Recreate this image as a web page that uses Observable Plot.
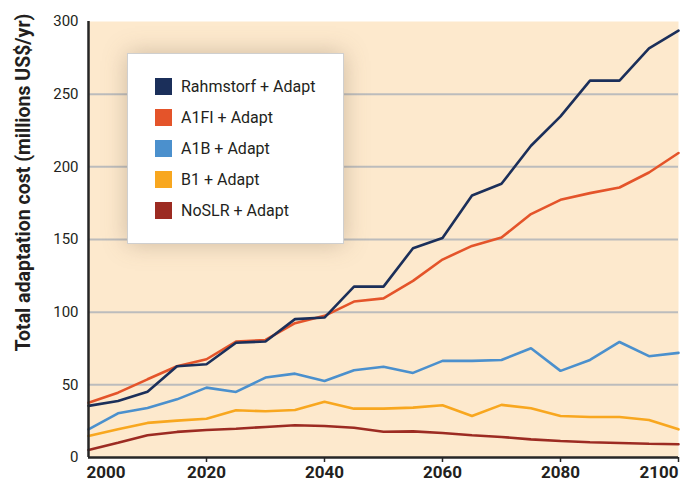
<!DOCTYPE html>
<html>
<head>
<meta charset="utf-8">
<script src="https://cdn.jsdelivr.net/npm/d3@7"></script>
<script src="https://cdn.jsdelivr.net/npm/@observablehq/plot@0.6"></script>
<style>
  html, body { margin: 0; padding: 0; background: #ffffff; }
  #wrap { position: relative; width: 680px; height: 485px; font-family: Roboto, "Open Sans", sans-serif; }
  #legend {
    position: absolute; left: 127px; top: 53px; width: 217px; height: 191px;
    background: #ffffff; border: 1.5px solid #cfcfcf; box-sizing: border-box;
    box-shadow: 0 0 22px rgba(120,100,80,0.35);
    padding-top: 17px;
  }
  .item { display: flex; align-items: center; height: 31px; padding-left: 27px; font-size: 16px; color: #231f20; }
  .sw { width: 17px; height: 17px; margin-right: 9px; flex: none; }
</style>
</head>
<body>
<div id="wrap"></div>
<script>
const years = [2000,2005,2010,2015,2020,2025,2030,2035,2040,2045,2050,2055,2060,2065,2070,2075,2080,2085,2090,2095,2100];
const rahmstorf = [35.5,38.9,45.3,62.8,64.2,79,79.8,95.2,96.3,117.6,117.6,144,151,180.3,188.4,214.5,234.7,259.3,259.3,281.5,293.7];
const a1fi      = [37.7,44.6,53.8,62.8,67.6,79.8,80.9,92.4,97.5,107.3,109.5,121.5,136.2,145.6,151.4,167.5,177.3,181.9,185.8,196.1,209.5];
const a1b       = [19.4,30.4,34.1,40,48.1,45.1,55,57.7,52.7,60,62.4,58.2,66.5,66.5,67.1,75.2,59.6,67.1,79.5,69.7,72];
const b1        = [14.8,19.4,23.8,25.4,26.7,32.5,31.8,32.7,38.4,33.6,33.6,34.3,35.9,28.6,36.2,33.9,28.6,27.9,27.9,25.8,19.4];
const noslr     = [5.2,10.2,15.3,17.6,18.9,19.8,21,22.2,21.7,20.5,17.7,18,16.9,15.3,14.1,12.5,11.4,10.5,10,9.5,9.1];

const seriesNames  = ["Rahmstorf + Adapt","A1FI + Adapt","A1B + Adapt","B1 + Adapt","NoSLR + Adapt"];
const seriesValues = [rahmstorf, a1fi, a1b, b1, noslr];
const seriesColors = ["#1b2f5a","#e4542a","#4b90cd","#f8a71f","#9c2b22"];

const yTicks = [0,50,100,150,200,250,300];
const gridTicks = [50,100,150,200,250];
const xTicks = [2000,2020,2040,2060,2080,2100];
const yTitle = "Total adaptation cost (millions US$/yr)";

const data = [];
seriesNames.forEach((name, i) => {
  seriesValues[i].forEach((v, j) => data.push({series: name, year: years[j], value: v}));
});

const drawOrder = [...seriesNames].reverse();
const fmt = d => String(d);
const axisFont = {fontSize: 17, fontWeight: "bold", color: "#231f20", label: null, tickFormat: fmt};

const chart = Plot.plot({
  width: 680,
  height: 485,
  marginTop: 21,
  marginBottom: 28,
  marginLeft: 88,
  marginRight: 2,
  style: {fontFamily: "Roboto, 'Open Sans', sans-serif", background: "transparent", overflow: "visible"},
  x: {domain: [2000, 2100]},
  y: {domain: [0, 300]},
  color: {domain: seriesNames, range: seriesColors},
  marks: [
    Plot.frame({fill: "#fde9cd", stroke: null}),
    Plot.ruleY(gridTicks, {stroke: "#bcbcbc", strokeWidth: 2}),
    ...drawOrder.map(name => Plot.line(data.filter(d => d.series === name), {
      x: "year", y: "value", stroke: "series", strokeWidth: 2.6, strokeLinejoin: "miter"
    })),
    Plot.ruleX([2000], {stroke: "#262626", strokeWidth: 2.5}),
    Plot.ruleY([0], {stroke: "#262626", strokeWidth: 2.5}),
    Plot.axisY(yTicks, {tickSize: 0, tickPadding: 10, fontSize: 15, color: "#231f20", label: null, tickFormat: fmt}),
    Plot.axisX(xTicks.slice(1, 5), {...axisFont, tickSize: 5, tickPadding: 3, stroke: "#262626", strokeWidth: 1.5}),
    Plot.axisX(xTicks.slice(0, 1), {...axisFont, tickSize: 0, tickPadding: 8, textAnchor: "start", dx: -2}),
    Plot.axisX(xTicks.slice(5), {...axisFont, tickSize: 5, tickPadding: 3, textAnchor: "end", stroke: "#262626", strokeWidth: 1.5}),
    Plot.text([yTitle], {frameAnchor: "left", textAnchor: "middle", text: d => d, rotate: -90, dx: -65, dy: -57, fontSize: 19.5, fontWeight: "bold", fill: "#231f20"})
  ]
});

const wrap = document.getElementById("wrap");
wrap.appendChild(chart);

const legend = document.createElement("div");
legend.id = "legend";
seriesNames.forEach((name, i) => {
  const item = document.createElement("div");
  item.className = "item";
  const sw = document.createElement("span");
  sw.className = "sw";
  sw.style.background = seriesColors[i];
  const label = document.createElement("span");
  label.textContent = name;
  item.appendChild(sw);
  item.appendChild(label);
  legend.appendChild(item);
});
wrap.appendChild(legend);
</script>
</body>
</html>
